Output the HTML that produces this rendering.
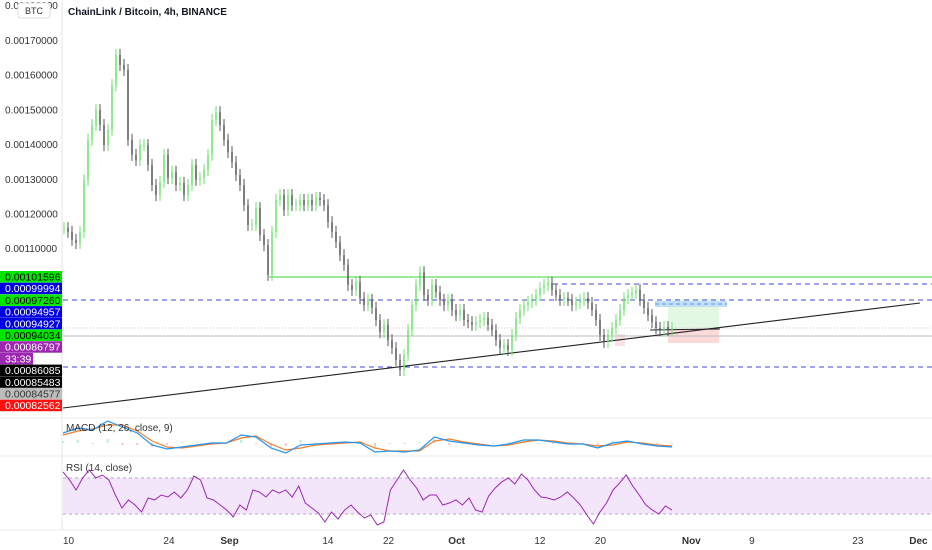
<!DOCTYPE html>
<html><head><meta charset="utf-8"><style>
html,body{margin:0;padding:0;background:#fff;width:932px;height:550px;overflow:hidden;font-family:"Liberation Sans",sans-serif}
svg{position:absolute;left:0;top:0}
</style></head><body>
<svg id="c" width="932" height="550" xmlns="http://www.w3.org/2000/svg" font-family="Liberation Sans, sans-serif">
<rect width="932" height="550" fill="#fff"/>
<g id="grid">
<line x1="62" y1="0" x2="62" y2="530" stroke="#e6e6e6"/>
<line x1="0" y1="418" x2="932" y2="418" stroke="#eeeeee"/>
<line x1="0" y1="456" x2="932" y2="456" stroke="#eeeeee"/>
<line x1="0" y1="530" x2="932" y2="530" stroke="#eeeeee"/>
</g>
<g id="ann">
<rect x="668" y="299" width="51" height="30" fill="#e3f8e3"/>
<rect x="668" y="329" width="51" height="14" fill="#fadada"/>
<rect x="615" y="334" width="10" height="12" fill="#fbe3e3"/>
<rect x="655" y="301" width="72" height="6" fill="#bfe0f7"/>
<line x1="655" y1="304" x2="727" y2="304" stroke="#6a8fe0" stroke-dasharray="4,3"/>
<line x1="269" y1="277" x2="932" y2="277" stroke="#5be05b" stroke-width="1.2"/>
<line x1="553" y1="284" x2="932" y2="284" stroke="#4a4ad8" stroke-dasharray="5,4"/>
<line x1="63" y1="300" x2="932" y2="300" stroke="#4a4ad8" stroke-dasharray="5,4"/>
<line x1="63" y1="367" x2="932" y2="367" stroke="#4a4ad8" stroke-dasharray="5,4"/>
<line x1="63" y1="328" x2="932" y2="328" stroke="#d9b4d9" stroke-dasharray="1,2"/>
<line x1="63" y1="336" x2="932" y2="336" stroke="#bbbbbb"/>
<line x1="63" y1="408" x2="920" y2="303" stroke="#222" stroke-width="1.1"/>
<line x1="650" y1="330" x2="720" y2="329" stroke="#222"/>
</g>
<g id="candles"></g>
<g id="rsiband">
<rect x="63" y="478" width="869" height="36" fill="#f3e6fb"/>
<line x1="63" y1="478" x2="932" y2="478" stroke="#b9a2c8" stroke-dasharray="3,3"/>
<line x1="63" y1="514" x2="932" y2="514" stroke="#b9a2c8" stroke-dasharray="3,3"/>
</g>
<g id="ind"></g>
<text x="68" y="15" font-size="10" font-weight="bold" fill="#131722">ChainLink / Bitcoin, 4h, BINANCE</text>
<text x="66" y="431" font-size="10" fill="#333">MACD (12, 26, close, 9)</text>
<text x="66" y="471" font-size="10" fill="#333">RSI (14, close)</text>
<g id="yaxis"></g>
<rect x="18" y="3" width="32" height="15" rx="3" fill="#fff" stroke="#ddd"/>
<text x="34" y="14" font-size="9" fill="#333" text-anchor="middle">BTC</text>
<g id="xaxis"></g>
</svg>
<script>
const closes=[115.8,114.7,112.4,111.5,114.7,129.7,141.2,145.5,149.8,145.5,139.7,144.1,157,165.7,162.8,161.4,141.2,136.9,135.4,139.7,139.7,134,128.2,125.3,129.1,136.9,130.2,132,128.2,128.8,125.3,128.2,134,129.7,130.2,132.5,136.9,146.9,149.2,145.5,141.2,137.7,134.8,131.1,128.2,122.4,116.7,116.7,121.6,113.8,110.9,102.3,114.7,123.9,125.3,121,125.3,122.4,122.4,123.9,122.4,123.9,122.4,124.5,123.9,122.4,117.5,114.7,111.8,108,105.2,99.4,98,100.3,95.6,93.6,95.1,92.8,89.3,85.8,87.9,83.5,81.2,77.8,74.9,79.2,86.4,93.6,99.4,103.1,96.5,95.1,99.4,97.4,95.1,93.6,95.1,92.2,90.7,92.2,89.3,88.7,87.9,88.7,89.3,89.9,87.9,86.4,83.5,81.2,82.1,80.7,85,89.9,92.2,93.6,94.5,95.1,96.5,98.5,99.4,100,98,96.5,95.1,95.6,95.1,93.6,94.2,95.1,95.6,94.2,92.2,89.3,85,83,85,87,89.3,92.2,95.6,96.5,97.1,98,95.1,92.8,90.7,88.7,87,86.4,87.3,86.4,87];
const priceTicks=[0.0017,0.0016,0.0015,0.0014,0.0013,0.0012,0.0011];
const macdLine=[10,15,13,22,16,10,-2,-6,-4,-2,0,0,8,6,-5,-10,-2,-1,0,1,0,-9,-8,-9,-7,6,2,0,-2,-3,-1,3,3,1,-1,-1,-5,0,2,-1,-3,-4];
const signalLine=[8,12,14,18,18,12,2,-4,-5,-3,-1,0,5,7,-1,-7,-5,-2,-1,0,1,-5,-8,-8,-8,2,4,1,-1,-3,-2,1,3,2,0,-1,-3,-2,1,0,-2,-3];
const rsiVals=[76.7,67.8,56.7,70,78.9,70,73.3,67.8,51.1,36.7,45.6,40,32.2,47.8,45.6,51.1,48.9,54.4,47.8,56.7,72.2,67.8,47.8,45.6,40,34.4,26.7,40,34.4,56.7,54.4,48.9,56.7,53.3,56.7,48.9,61.1,42.2,36.7,31.1,21.1,32.2,24.4,34.4,40,32.2,25.6,28.9,17.8,21.1,56.7,67.8,78.9,67.8,58.9,45.6,51.1,51.1,40,42.2,45.6,40,47.8,34.4,32.2,50,58.9,65.6,70,63.3,74.4,67.8,56.7,48.9,47.8,45.6,48.9,54.4,47.8,40,28.9,18.9,32.2,42.2,56.7,64.4,73.3,61.1,51.1,40,34.4,30,38.9,34.4];
const dayLabels=["10","24","Sep","14","22","Oct","12","20","Nov","9","23","Dec"];
const dayOffsets=[0,14,22,35,43,52,63,71,83,91,105,113];
const sideLabels=["0.00101596","0.00099994","0.00097260","0.00094957","0.00094927","0.00094034","0.00086797","33:39","0.00086085","0.00085483","0.00084577","0.00082562"];
const sideColors=["#00e600","#0000e0","#00e600","#0000e0","#0000e0","#00e600","#9c27b0","#9c27b0","#000","#000","#bdbdbd","#ff1010"];
const sideText=["#000","#fff","#000","#fff","#fff","#000","#fff","#fff","#fff","#fff","#333","#fff"];
const NS="http://www.w3.org/2000/svg";
function mk(t,a,p){const e=document.createElementNS(NS,t);for(const k in a)e.setAttribute(k,a[k]);p.appendChild(e);return e;}
const py=v=>40+(0.0017-v)/0.0001*34.7;
const cx=i=>64+i*4;
const cg=document.getElementById('candles');
closes.forEach((c,i)=>{
 const o=i?closes[i-1]:c; const y1=py(o*1e-5),y2=py(c*1e-5);
 const up=c>=o; const col=up?'#6be36b':'#555';
 const top=Math.min(y1,y2),bot=Math.max(y1,y2);
 const w=mk('line',{x1:cx(i),x2:cx(i),y1:top-6,y2:bot+6,stroke:col,'stroke-width':1},cg);
 
 
 const b=mk('rect',{x:cx(i)-0.75,y:top,width:1.5,height:Math.max(1,bot-top),fill:col},cg);
 
 
});
const ind=document.getElementById('ind');
const mx=i=>63+i*(609/(macdLine.length-1));
const my=v=>443-v*1;
macdLine.forEach((v,i)=>{const d=v-signalLine[i];const h=mk('rect',{x:mx(i)-1,y:Math.min(443,443-d),width:2,height:Math.max(1,Math.abs(d)),fill:d>=0?'#b8ece0':'#f9c4c4'},ind);
 
 });
const sp=mk('polyline',{points:signalLine.map((v,i)=>mx(i)+','+my(v)).join(' '),fill:'none',stroke:'#f57c2a','stroke-width':1.2},ind);


const mp=mk('polyline',{points:macdLine.map((v,i)=>mx(i)+','+my(v)).join(' '),fill:'none',stroke:'#2196f3','stroke-width':1.2},ind);


const rx=i=>63+i*(609/(rsiVals.length-1));
const ry=v=>514-(v-30)*0.9;
const rp=mk('polyline',{points:rsiVals.map((v,i)=>rx(i)+','+ry(v)).join(' '),fill:'none',stroke:'#9c27b0','stroke-width':1},ind);


const ya=document.getElementById('yaxis');
const t0=mk('text',{x:5,y:9,'font-size':10,fill:'#333'},ya);t0.textContent='0.00180000';


priceTicks.forEach(p=>{const t=mk('text',{x:5,y:py(p)+4,'font-size':10,fill:'#333'},ya);t.textContent=p.toFixed(8);
 
 });
sideLabels.forEach((s,i)=>{const y=271+i*11.7;const w=s.length<6?33:62;
 const r=mk('rect',{x:0,y:y,width:w,height:11.5,fill:sideColors[i]},ya);
 
 
 const t=mk('text',{x:5,y:y+9.5,'font-size':10.5,fill:sideText[i]},ya);t.textContent=s;
 
 });
const xa=document.getElementById('xaxis');
dayLabels.forEach((l,i)=>{const t=mk('text',{x:63+dayOffsets[i]*7.57,y:544,'font-size':10,fill:'#333','text-anchor':i===0?'start':'middle','font-weight':isNaN(l)?'bold':'normal'},xa);t.textContent=l;
 
 });
</script>
</body></html>
